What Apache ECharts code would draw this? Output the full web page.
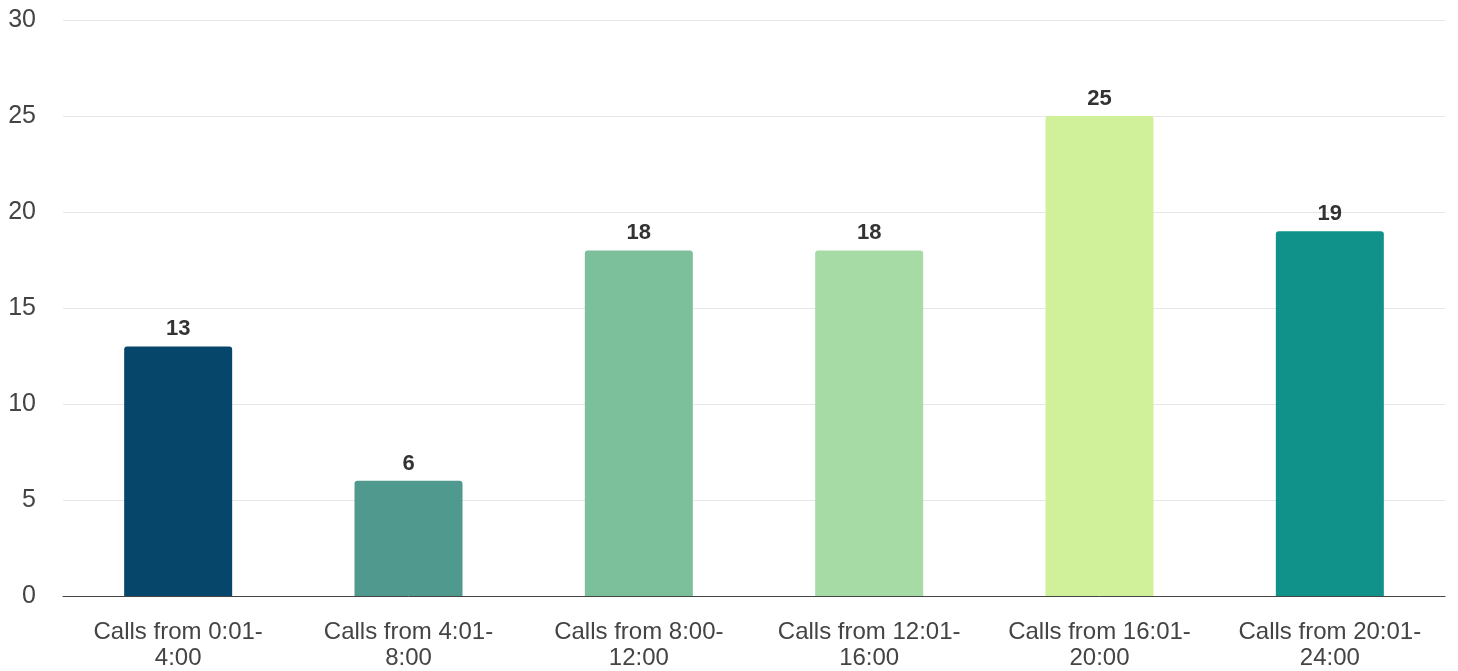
<!DOCTYPE html>
<html>
<head>
<meta charset="utf-8">
<style>html,body{margin:0;padding:0;background:#fff;}#c{width:1458px;height:671px;}</style>
<script src="https://cdn.jsdelivr.net/npm/echarts@6/dist/echarts.min.js"></script>
</head>
<body>
<div id="c"></div>
<script>
const categories = ["Calls from 0:01-4:00","Calls from 4:01-8:00","Calls from 8:00-12:00","Calls from 12:01-16:00","Calls from 16:01-20:00","Calls from 20:01-24:00"];
const values = [13, 6, 18, 18, 25, 19];
const barColors = ["#07466b", "#4f998e", "#7cbf9b", "#a6dba5", "#d0f19a", "#10928b"];
const yTicks = [0, 5, 10, 15, 20, 25, 30];

const chart = echarts.init(document.getElementById('c'), null, {renderer: 'canvas'});
chart.setOption({
  animation: false,
  grid: {left: 63, right: 13, top: 20, bottom: 75, containLabel: false},
  xAxis: {
    type: 'category',
    data: categories,
    axisLine: {lineStyle: {color: '#444', width: 1}},
    axisTick: {show: false},
    axisLabel: {
      interval: 0,
      margin: 23,
      color: '#444',
      fontFamily: 'Liberation Sans, Arial, sans-serif',
      fontSize: 24,
      lineHeight: 26,
      formatter: v => v.replace('-', '-\n')
    }
  },
  yAxis: {
    type: 'value',
    min: yTicks[0],
    max: yTicks[yTicks.length - 1],
    interval: 5,
    axisLine: {show: false},
    axisTick: {show: false},
    splitLine: {lineStyle: {color: '#e6e6e6', width: 1}},
    axisLabel: {
      margin: 27,
      color: '#444',
      fontFamily: 'Liberation Sans, Arial, sans-serif',
      fontSize: 25,
      padding: [4, 0, 0, 0]
    }
  },
  series: [{
    type: 'bar',
    data: values.map((v, i) => ({value: v, itemStyle: {color: barColors[i]}})),
    barWidth: 108,
    itemStyle: {borderRadius: [3, 3, 0, 0]},
    label: {
      show: true,
      position: 'top',
      distance: 6,
      color: '#333',
      fontWeight: 'bold',
      fontFamily: 'Liberation Sans, Arial, sans-serif',
      fontSize: 22
    }
  }]
});
</script>
</body>
</html>
